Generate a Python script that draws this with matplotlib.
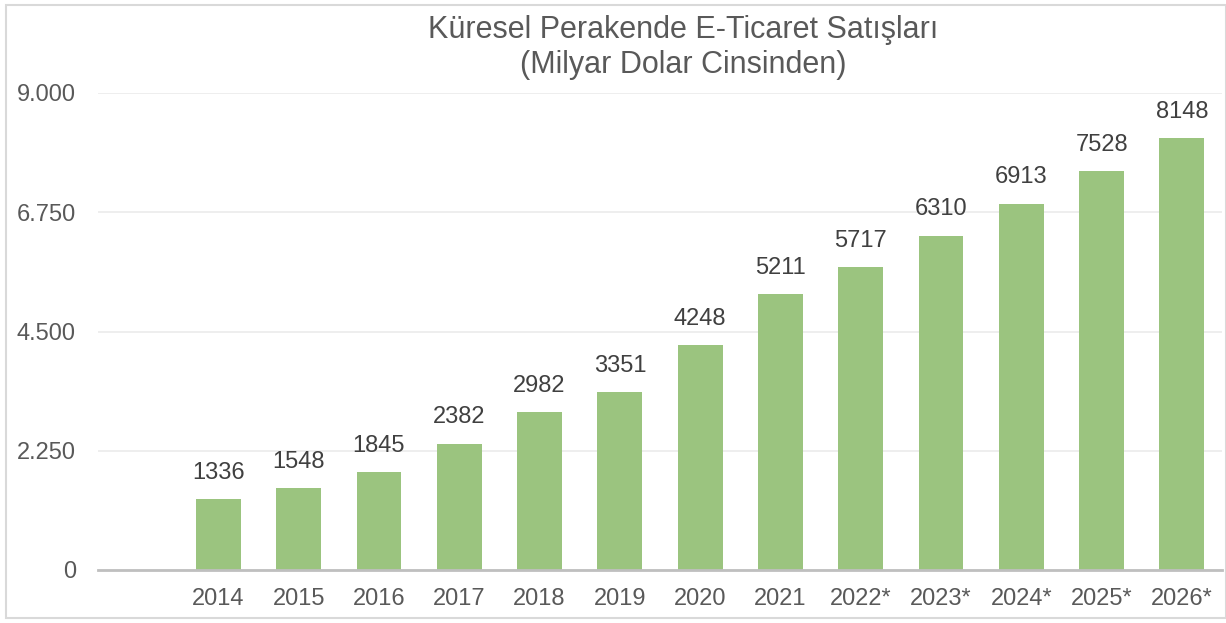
import matplotlib.pyplot as plt
import matplotlib.patches as mpatches
from matplotlib.ticker import FuncFormatter

# Data
years = ['', '2014', '2015', '2016', '2017', '2018', '2019', '2020', '2021',
         '2022*', '2023*', '2024*', '2025*', '2026*']
sales = [None, 1336, 1548, 1845, 2382, 2982, 3351, 4248, 5211,
         5717, 6310, 6913, 7528, 8148]
y_ticks = [0, 2250, 4500, 6750, 9000]
title_lines = ['Küresel Perakende E-Ticaret Satışları', '(Milyar Dolar Cinsinden)']

plt.rcParams['font.family'] = ['Liberation Sans', 'DejaVu Sans']

fig = plt.figure(figsize=(12.26, 6.23), dpi=100)
ax = fig.add_axes([98 / 1226, 1 - 570 / 623, (1222 - 98) / 1226, (570 - 93) / 623])

xs = [i + 0.5 for i in range(len(years))]
bar_x = [x for x, v in zip(xs, sales) if v is not None]
bar_h = [v for v in sales if v is not None]
ax.bar(bar_x, bar_h, width=0.56, color='#9BC47F', zorder=2)

for x, v in zip(bar_x, bar_h):
    ax.annotate(str(v), (x, v), xytext=(0, 11), textcoords='offset points',
                ha='center', va='bottom', fontsize=17, color='#404040')

ax.set_xlim(0, len(years))
ax.set_ylim(0, 9000)
ax.set_xticks(xs)
ax.set_xticklabels(years)
ax.set_yticks(y_ticks)
ax.yaxis.set_major_formatter(FuncFormatter(lambda v, p: f'{int(v):,}'.replace(',', '.')))
ax.tick_params(axis='both', length=0, labelsize=17, colors='#595959')
ax.tick_params(axis='x', pad=13)
ax.tick_params(axis='y', pad=16)

ax.grid(axis='y', color='#EBEBEB', linewidth=1.2, zorder=0)
for s in ['top', 'right', 'left']:
    ax.spines[s].set_visible(False)
ax.spines['bottom'].set_color('#BFBFBF')
ax.spines['bottom'].set_linewidth(2)
ax.spines['bottom'].set_zorder(3)

# title, two lines
fig.text(683 / 1226, 1 - 38 / 623, title_lines[0], ha='center', va='baseline',
         fontsize=22, color='#595959')
fig.text(683 / 1226, 1 - 73 / 623, title_lines[1], ha='center', va='baseline',
         fontsize=22, color='#595959')

# outer frame
fig.patches.append(mpatches.Rectangle((6 / 1226, 5 / 623), 1 - 6 / 1226, 1 - 10 / 623,
                                      transform=fig.transFigure, fill=False,
                                      edgecolor='#D9D9D9', linewidth=1.5))

fig.savefig('out.png', dpi=100)
